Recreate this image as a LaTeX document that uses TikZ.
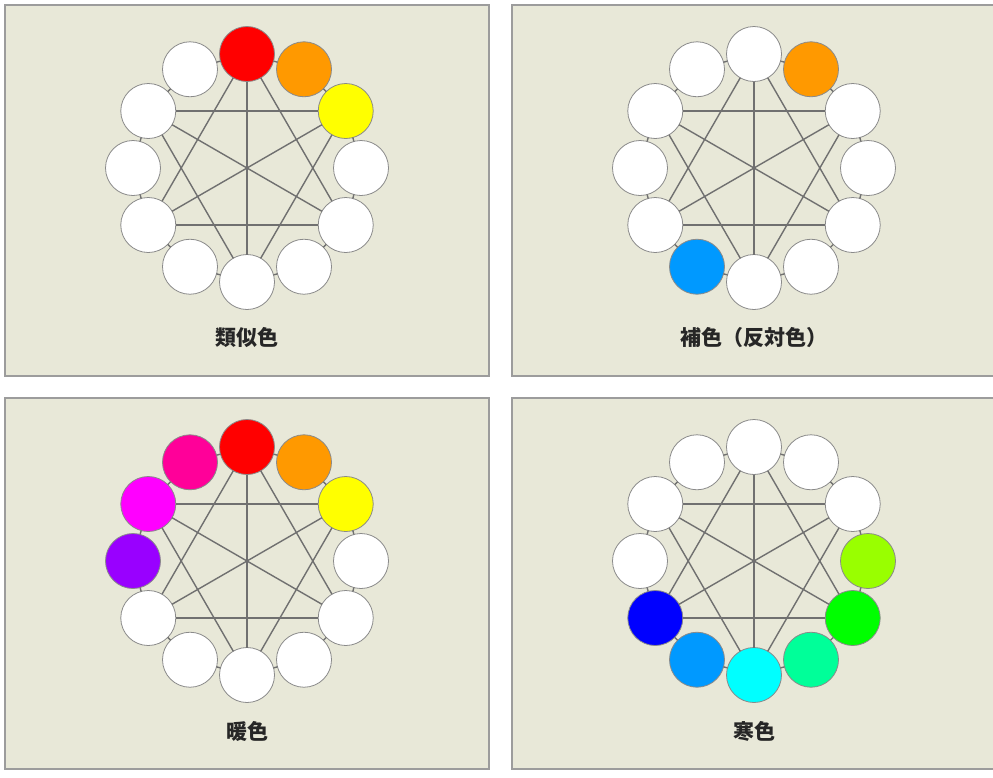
\documentclass[tikz,border=0pt]{standalone}
\usepackage{fontspec}
\newfontfamily\cjk{Noto Sans CJK JP}
\usepackage{xcolor}
\usetikzlibrary{calc}

\begin{document}
\begin{tikzpicture}[x=1pt,y=-1pt,
  rond/.style={circle, draw=bord, line width=0.8pt, minimum size=55pt, inner sep=0pt, outer sep=0pt},
  trait/.style={draw=ligne, line width=1.4pt},
  panneau/.style={fill=fond, draw=cadre, line width=2pt},
  titre/.style={font=\cjk\bfseries\fontsize{21}{21}\selectfont, text=black!85}]

% Couleurs
\definecolor{fond}{HTML}{E8E8D8}
\definecolor{cadre}{HTML}{9C9C9C}
\definecolor{ligne}{HTML}{707070}
\definecolor{bord}{HTML}{8A8A8A}
\definecolor{blanc}{HTML}{FFFFFF}
\definecolor{rouge}{HTML}{FF0000}
\definecolor{orange}{HTML}{FF9900}
\definecolor{jaune}{HTML}{FFFF00}
\definecolor{jauneVert}{HTML}{99FF00}
\definecolor{vert}{HTML}{00FF00}
\definecolor{vertBleu}{HTML}{00FF99}
\definecolor{cyanC}{HTML}{00FFFF}
\definecolor{azur}{HTML}{0099FF}
\definecolor{bleu}{HTML}{0000FF}
\definecolor{violetC}{HTML}{9900FF}
\definecolor{magentaC}{HTML}{FF00FF}
\definecolor{rose}{HTML}{FF0099}

\useasboundingbox (0,0) rectangle (993,777);

% Quatre panneaux : nom / coin haut gauche / titre / teintes du cercle
\foreach \p/\x/\y/\nom/\teintes in {
  A/5/5/類似色/{rouge,orange,jaune,blanc,blanc,blanc,blanc,blanc,blanc,blanc,blanc,blanc},
  B/512/5/補色（反対色）/{blanc,orange,blanc,blanc,blanc,blanc,blanc,azur,blanc,blanc,blanc,blanc},
  C/5/398/暖色/{rouge,orange,jaune,blanc,blanc,blanc,blanc,blanc,blanc,violetC,magentaC,rose},
  D/512/398/寒色/{blanc,blanc,blanc,jauneVert,vert,vertBleu,cyanC,azur,bleu,blanc,blanc,blanc}}
{
  \draw[panneau] (\x,\y) rectangle ++(484,371);
  \coordinate (\p) at ({\x+242},{\y+163});

  % Cercles
  \foreach \c [count=\k from 0] in \teintes
    \node[rond, fill=\c] (\p\k) at ($(\p)+({-90+30*\k}:114)$) {};

  % Etoile et diametres
  \foreach \i/\j in {0/4,4/8,8/0,2/6,6/10,10/2,0/6,2/8,4/10}
    \draw[trait] (\p\i) -- (\p\j);

  % Anneau
  \foreach \i [evaluate=\i as \j using {int(mod(\i+1,12))}] in {0,...,11}
    \draw[trait] (\p\i) -- (\p\j);

  % Titre
  \node[titre] (\p-titre) at ({\x+242},{\y+333}) {\nom};
}

\end{tikzpicture}
\end{document}
